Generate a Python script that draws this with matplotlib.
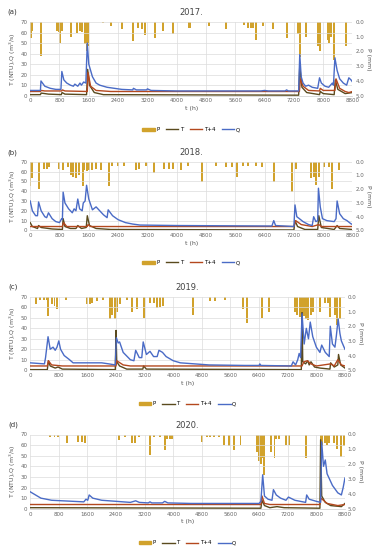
import numpy as np
import matplotlib
matplotlib.use("Agg")
import matplotlib.pyplot as plt

# ---- data: (hour, value) ----
years = ["2017.", "2018.", "2019.", "2020."]
labels = ["(a)", "(b)", "(c)", "(d)"]

# precipitation bars (hour, mm)
p17 = [(20, 1.1), (60, 0.6), (290, 2.3), (740, 0.6), (780, 0.7), (816, 1.4), (860, 0.6),
       (1115, 1.0), (1290, 0.75), (1360, 0.6), (1420, 0.7), (1500, 1.5), (1540, 2.0), (1570, 1.6),
       (2000, 0.1), (2220, 0.3), (2500, 0.5), (2800, 1.3), (2950, 0.4), (3040, 0.5),
       (3130, 0.9), (3400, 1.1), (3630, 0.6), (3900, 0.8), (4350, 0.4), (4880, 0.3),
       (5340, 0.5), (5830, 0.2), (5950, 0.4), (6020, 0.4), (6080, 0.4), (6170, 1.2),
       (6350, 0.3), (6620, 0.5), (7000, 1.1), (7300, 0.8), (7380, 2.4), (7530, 1.0),
       (7850, 1.6), (7900, 2.0), (8120, 1.2), (8170, 1.4), (8220, 1.0), (8300, 2.6), (8620, 1.65)]
p18 = [(0, 1.8), (50, 1.2), (230, 2.0), (380, 0.5), (450, 0.5), (520, 0.4), (790, 0.5), (900, 0.6),
       (1020, 0.35), (1110, 1.0), (1180, 1.1), (1260, 1.2), (1340, 1.0), (1430, 1.8), (1480, 0.6),
       (1550, 0.7), (1610, 0.6), (1700, 0.6), (1800, 0.5), (1930, 0.6), (2140, 1.8), (2240, 0.3),
       (2400, 0.3), (2570, 0.3), (2880, 0.6), (2970, 0.5), (3160, 0.3), (3390, 0.85), (3660, 0.5),
       (3780, 0.5), (3890, 0.5), (4110, 0.6), (4300, 0.3), (4700, 1.45), (5070, 0.3), (5340, 0.35),
       (5520, 0.35), (5660, 1.1), (5800, 0.3), (5950, 0.3), (6160, 0.3), (6340, 0.4), (6660, 1.45),
       (7160, 2.2), (7250, 0.5), (7660, 1.2), (7750, 1.1), (7800, 1.7), (7890, 1.1), (8030, 0.4),
       (8160, 0.4), (8250, 1.95), (8420, 0.6)]
p19 = [(170, 0.5), (280, 0.2), (380, 0.2), (470, 0.2), (510, 1.3), (600, 0.5), (680, 0.6),
       (745, 0.5), (760, 0.85), (1000, 0.2), (1600, 0.5), (1660, 0.5), (1720, 0.4), (1860, 0.3),
       (2030, 0.2), (2230, 1.5), (2300, 1.2), (2360, 1.5), (2420, 1.0), (2510, 0.5), (2700, 0.2),
       (2840, 1.0), (2980, 0.85), (3170, 1.45), (3350, 0.4), (3450, 0.4), (3540, 0.75), (3630, 0.7),
       (3720, 0.6), (4560, 1.2), (5030, 0.3), (5170, 0.3), (5450, 0.2), (5940, 0.85), (6050, 1.8),
       (6470, 1.45), (6680, 1.0), (7410, 1.0), (7470, 1.2), (7530, 1.4), (7590, 1.9), (7650, 1.3),
       (7720, 1.5), (7780, 1.6), (7850, 1.2), (7910, 1.0), (8100, 1.0), (8240, 0.4), (8330, 0.4),
       (8380, 1.4), (8520, 1.2), (8580, 1.9), (8660, 1.5)]
p20 = [(560, 0.15), (680, 0.15), (790, 0.15), (1030, 0.6), (1350, 0.5), (1450, 0.5), (1540, 0.6),
       (1960, 0.05), (2150, 0.05), (2470, 0.4), (2660, 0.15), (2850, 0.6), (2940, 0.6), (3030, 0.15),
       (3360, 1.4), (3470, 0.15), (3640, 0.15), (3760, 1.05), (3830, 0.3), (3900, 0.3), (3960, 0.3),
       (4800, 0.5), (4950, 0.15), (5040, 0.15), (5130, 0.15), (5270, 0.15), (5410, 0.7), (5550, 0.8),
       (5690, 1.05), (5880, 0.7), (6350, 1.2), (6400, 1.8), (6450, 2.0), (6500, 1.6), (6530, 2.7),
       (6740, 1.15), (6830, 1.6), (6870, 0.3), (6950, 0.3), (7140, 0.7), (7230, 0.7), (7720, 1.6),
       (8120, 0.6), (8170, 0.8), (8230, 0.6), (8290, 0.7), (8350, 0.6), (8490, 0.6), (8580, 1.0),
       (8680, 1.5), (8770, 0.8)]

# discharge Q (hour, m3/s)
q17 = [(0, 5), (280, 5), (295, 14), (400, 9), (550, 7), (700, 6), (840, 6), (865, 23), (920, 15),
       (1000, 12), (1100, 10), (1180, 9), (1220, 11), (1300, 9), (1360, 12), (1400, 10), (1460, 13),
       (1520, 12), (1560, 50), (1600, 30), (1700, 18), (1800, 12), (1900, 10), (2100, 8), (2500, 6),
       (2800, 5.5), (2820, 7), (2900, 5.5), (3180, 5.5), (3200, 6.5), (3300, 5), (4000, 4.5),
       (6300, 4.5), (6400, 5), (6500, 4.5), (6960, 4.5), (7000, 5.5), (7050, 4.5), (7330, 4.5),
       (7360, 39), (7400, 18), (7450, 12), (7520, 9), (7600, 10), (7700, 8), (7850, 7), (7900, 17),
       (7950, 12), (8050, 9), (8150, 8), (8250, 12), (8280, 10), (8320, 36), (8380, 24), (8450, 16),
       (8550, 12), (8640, 10), (8700, 17), (8760, 15), (8800, 13)]
q18 = [(0, 30), (60, 20), (150, 15), (200, 15), (230, 29), (300, 20), (400, 14), (450, 13),
       (500, 18), (600, 12), (700, 9), (800, 8), (860, 12), (880, 11), (900, 39), (950, 28),
       (1050, 22), (1150, 18), (1200, 22), (1250, 20), (1300, 32), (1350, 22), (1420, 20),
       (1450, 28), (1500, 30), (1540, 46), (1600, 32), (1700, 21), (1800, 24), (1900, 20),
       (2000, 16), (2100, 13), (2130, 21), (2250, 15), (2400, 11), (2600, 8), (2800, 6.5),
       (3000, 5.5), (4000, 5), (6600, 4.5), (6650, 10), (6700, 5), (7200, 4), (7230, 26),
       (7280, 14), (7350, 12), (7450, 9), (7600, 6), (7700, 5), (7740, 14), (7800, 9), (7850, 10),
       (7870, 43), (7920, 24), (7980, 12), (8100, 10), (8300, 9), (8350, 12), (8380, 30),
       (8450, 17), (8550, 12), (8650, 10), (8750, 7), (8800, 6)]
q19 = [(0, 7), (200, 6.5), (400, 6), (430, 12), (500, 32), (560, 20), (640, 22), (700, 19),
       (750, 22), (800, 28), (850, 20), (950, 14), (1100, 10), (1200, 7), (1600, 7), (2000, 7),
       (2200, 6), (2380, 5), (2410, 31), (2460, 26), (2500, 27), (2600, 17), (2800, 10), (2900, 9),
       (2950, 19), (3050, 12), (3120, 12), (3160, 27), (3250, 15), (3350, 18), (3450, 13),
       (3550, 13), (3600, 19), (3700, 17), (3800, 13), (4000, 9), (4200, 7), (5000, 5),
       (6000, 4.5), (6400, 4.5), (6420, 6), (6450, 4.5), (7300, 4), (7350, 8), (7420, 5),
       (7480, 10), (7520, 16), (7560, 12), (7600, 54), (7660, 25), (7720, 40), (7780, 30),
       (7830, 46), (7900, 32), (7950, 27), (8000, 22), (8100, 17), (8150, 24), (8250, 17),
       (8360, 13), (8390, 42), (8450, 25), (8520, 22), (8560, 33), (8610, 49), (8660, 35),
       (8700, 28), (8800, 20)]
q20 = [(0, 16), (100, 14), (300, 10), (600, 8), (1200, 7), (1500, 6.5), (1560, 9), (1610, 8),
       (1650, 13), (1750, 10), (2000, 8), (2800, 6), (2950, 7.5), (3050, 6), (3300, 5.5),
       (3350, 6.5), (3400, 5.5), (3700, 5.5), (3760, 7), (3850, 5.5), (4500, 5), (6400, 5),
       (6450, 7), (6500, 32), (6550, 12), (6650, 9), (6760, 8), (6800, 18), (6880, 13), (7000, 10),
       (7150, 8), (7220, 11), (7400, 8), (7700, 6), (7730, 13), (7800, 9), (8000, 7), (8120, 6),
       (8150, 63), (8200, 40), (8250, 46), (8300, 33), (8450, 22), (8600, 15), (8700, 13),
       (8750, 20), (8800, 29)]

# turbidity T (hour, NTU)
t17 = [(0, 1), (280, 1), (300, 2.5), (500, 1.5), (850, 1), (870, 3), (950, 1.5), (1540, 1),
       (1570, 25), (1620, 10), (1750, 3), (2000, 1), (7330, 0.5), (7360, 28), (7420, 8),
       (7550, 3), (7900, 1), (7920, 4), (8000, 2), (8300, 1), (8330, 15), (8400, 6),
       (8600, 2), (8800, 3)]
t18 = [(0, 8), (60, 4), (200, 2), (230, 5), (300, 3), (600, 1.5), (880, 1), (900, 12), (950, 4),
       (1100, 2), (1250, 2), (1300, 5), (1400, 2), (1530, 3), (1560, 15), (1620, 5), (1800, 2),
       (2200, 1), (7200, 0.5), (7230, 10), (7300, 4), (7500, 1), (7850, 1), (7880, 15),
       (7950, 3), (8300, 1), (8380, 5), (8450, 2), (8800, 1)]
t19 = [(0, 0.5), (480, 0.5), (510, 9), (560, 4), (700, 2), (780, 3), (900, 1), (2380, 0.5),
       (2400, 38), (2420, 8), (2500, 4), (2700, 1), (3150, 1), (3170, 4), (3250, 1), (7580, 0.5),
       (7600, 55), (7620, 8), (7700, 6), (7760, 9), (7800, 5), (7850, 8), (7950, 3), (8100, 2),
       (8380, 1), (8400, 7), (8500, 3), (8600, 5), (8620, 15), (8680, 5), (8800, 2)]
t20 = [(0, 1), (6450, 0.5), (6480, 8), (6550, 3), (6700, 1), (6900, 2), (7100, 1), (8100, 0.5),
       (8120, 65), (8150, 12), (8250, 6), (8400, 3), (8700, 2), (8800, 5)]

# T+4 (hour, NTU)
t4_17 = [(0, 4), (280, 4), (300, 5), (400, 4.5), (860, 4.5), (880, 5.5), (950, 4.5), (1560, 4),
         (1580, 22), (1650, 9), (1800, 5), (2200, 4), (7350, 4), (7380, 16), (7450, 9), (7600, 5),
         (7900, 4.5), (7920, 7), (8000, 5), (8320, 5), (8350, 16), (8450, 7), (8600, 4),
         (8700, 3), (8800, 4)]
t4_18 = [(0, 4), (880, 4), (910, 8), (1000, 4), (1560, 4), (1580, 6), (1650, 4), (7200, 4),
         (7250, 10), (7400, 6), (7700, 4), (7880, 6), (7950, 4), (8800, 4)]
t4_19 = [(0, 4), (480, 4), (510, 9), (600, 5), (900, 4), (2400, 4), (2420, 9), (2600, 5),
         (2800, 4), (7500, 4), (7600, 4), (7650, 8), (7750, 9), (7850, 6), (8000, 4), (8400, 6),
         (8500, 4), (8600, 10), (8700, 5), (8800, 4)]
t4_20 = [(0, 4), (6450, 4), (6480, 12), (6550, 5), (6700, 4), (8100, 4), (8130, 10), (8300, 5),
         (8600, 3), (8800, 4)]

p_all = [p17, p18, p19, p20]
q_all = [q17, q18, q19, q20]
t_all = [t17, t18, t19, t20]
t4_all = [t4_17, t4_18, t4_19, t4_20]

c_p = "#d1a22c"
c_t = "#5a4a1e"
c_t4 = "#b4481e"
c_q = "#4a6bc6"

plt.rcParams['font.family'] = ['DejaVu Sans']
fig = plt.figure(figsize=(3.77, 5.50), dpi=100)

# axes boxes (left, bottom, width, height) in figure fractions
boxes = [(0.080, 0.826, 0.855, 0.134),
         (0.080, 0.581, 0.855, 0.125),
         (0.080, 0.327, 0.835, 0.133),
         (0.080, 0.075, 0.835, 0.135)]

for i in range(4):
    ax = fig.add_axes(boxes[i])
    ax2 = ax.twinx()
    ax.set_zorder(ax2.get_zorder() + 1)
    ax.patch.set_visible(False)

    pt, pv = zip(*p_all[i])
    ax2.bar(pt, pv, width=55, color=c_p, linewidth=0)
    ax2.set_ylim(5, 0)
    ax2.set_yticks(np.arange(0, 5.1, 1))
    ax2.set_yticklabels(["%.1f" % v for v in np.arange(0, 5.1, 1)])
    ax2.set_ylabel("P (mm)", fontsize=4.5, color="#555555", rotation=270, labelpad=5)

    tt, tv = zip(*t_all[i])
    ax.plot(tt, tv, color=c_t, lw=1.0)
    t4t, t4v = zip(*t4_all[i])
    ax.plot(t4t, t4v, color=c_t4, lw=1.0)
    qt, qv = zip(*q_all[i])
    ax.plot(qt, qv, color=c_q, lw=1.0)

    ax.set_xlim(0, 8800)
    ax.set_ylim(0, 70)
    ax.set_xticks(np.arange(0, 8801, 800))
    ax.set_yticks(np.arange(0, 71, 10))
    ax.grid(True, color="#dcdcdc", lw=0.5)
    ax.set_axisbelow(True)
    ax.set_xlabel("t (h)", fontsize=4.5, color="#555555", labelpad=2)
    ax.set_ylabel("T (NTU),Q (m$^3$/s)", fontsize=4.5, color="#555555", labelpad=2)
    ax.set_title(years[i], fontsize=6, color="#444444", pad=5)
    ax.text(-0.07, 1.11, labels[i], transform=ax.transAxes, fontsize=5, color="#333333")

    for a in (ax, ax2):
        for s in a.spines.values():
            s.set_visible(False)
        a.tick_params(labelsize=4, colors="#666666", length=0, pad=2)
    ax.spines["bottom"].set_visible(True)
    ax.spines["bottom"].set_color("#cccccc")
    ax.spines["bottom"].set_linewidth(0.5)

    # legend below the panel
    h_p = plt.Rectangle((0, 0), 1, 1, color=c_p)
    h_t = plt.Line2D([], [], color=c_t, lw=1.0)
    h_t4 = plt.Line2D([], [], color=c_t4, lw=1.0)
    h_q = plt.Line2D([], [], color=c_q, lw=1.0)
    ax.legend([h_p, h_t, h_t4, h_q], ["P", "T", "T+4", "Q"], loc="upper center",
              bbox_to_anchor=(0.5, -0.36), ncol=4, frameon=False, fontsize=4,
              handlelength=2.2, handleheight=0.5, columnspacing=1.2, handletextpad=0.3)

fig.savefig("out.png", dpi=100)
